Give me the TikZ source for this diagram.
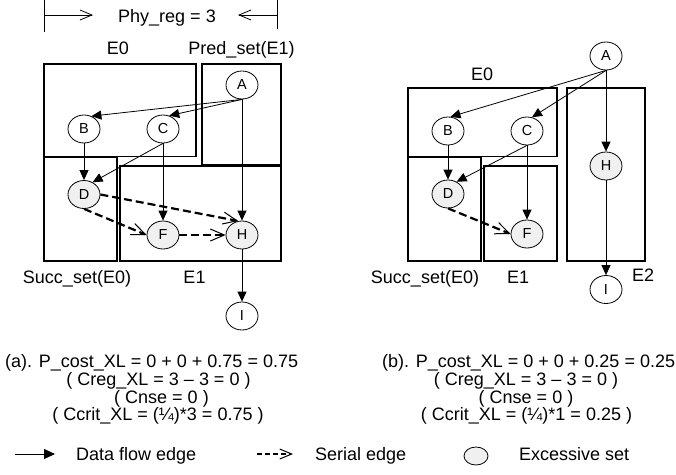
\documentclass[tikz,border=0pt]{standalone}
\usepackage{fontspec}
\setmainfont{Liberation Sans}
\usetikzlibrary{arrows.meta,shapes.geometric}
\tikzset{
  box/.style={draw, line width=1.5pt},
  vx/.style={draw, ellipse, minimum width=32pt, minimum height=28pt, inner sep=0pt,
    line width=0.8pt, fill=white, font=\fontsize{14.5}{17}\selectfont},
  ex/.style={vx, fill=gray!12},
  df/.style={line width=0.8pt, -{Triangle[length=10pt,width=9pt]}},
  se/.style={line width=2.2pt, dash pattern=on 8pt off 4pt,
    -{Straight Barb[length=14pt,width=12pt,line width=1pt]}},
  thinarr/.style={line width=0.8pt, -{Straight Barb[length=12pt,width=10pt,line width=0.8pt]}},
  lbl/.style={anchor=base, inner sep=0pt, font=\fontsize{18}{21}\selectfont},
  lblw/.style={lbl, anchor=base west},
}
\begin{document}
\begin{tikzpicture}[x=1pt,y=-1pt]
\useasboundingbox (0,0) rectangle (676,474);

% ---- Phy_reg marker ----
\coordinate (pl0) at (44,0); \coordinate (pl1) at (44,32);
\coordinate (pr0) at (277,0); \coordinate (pr1) at (277,29);
\coordinate (plA) at (44,15); \coordinate (plB) at (93,15);
\coordinate (prA) at (277,15); \coordinate (prB) at (238,15);
\draw[line width=0.8pt] (pl0) -- (pl1);
\draw[line width=0.8pt] (pr0) -- (pr1);
\draw[thinarr] (plA) -- (plB);
\draw[thinarr] (prA) -- (prB);
\node[lbl] (phy) at (167,22.5) {Phy\_reg = 3};

% ---- (a) boxes ----
\draw[box] (44,64) rectangle (196,156.5);
\draw[box] (202,64) rectangle (281,165);
\draw[box] (44,157.5) rectangle (117,261);
\draw[box] (120,166) rectangle (281,261);
\node[lbl] (aE0) at (118,54.5) {E0};
\node[lbl] (aPred) at (241.5,54.5) {Pred\_set(E1)};
\node[lbl] (aSucc) at (77,283) {Succ\_set(E0)};
\node[lbl] (aE1) at (194.5,283) {E1};

% ---- (a) nodes ----
\node[vx] (aA) at (242,85) {A};
\node[vx] (aB) at (84,129) {B};
\node[vx] (aC) at (163,129) {C};
\node[ex] (aD) at (84,194.5) {D};
\node[ex] (aF) at (163,235) {F};
\node[ex] (aH) at (242,235) {H};
\node[vx] (aI) at (242,316) {I};

% ---- (a) edges ----
\draw[df] (aA.south) -- (aB.60);
\draw[df] (aA.south) -- (aC.65);
\draw[df] (aA) -- (aH);
\draw[df] (aB) -- (aD);
\draw[df] (aC.south) -- (aD.55);
\draw[df] (aC) -- (aF);
\draw[se] (aD.east) -- (aH.105);
\draw[se] (aD.south) -- (aF.west);
\draw[se] (aF) -- (aH);
\draw[df] (aH) -- (aI);

% ---- (b) boxes ----
\draw[box] (408,88) rectangle (557,156.5);
\draw[box] (567,88) rectangle (645,261);
\draw[box] (408,157.5) rectangle (481,261);
\draw[box] (484,166) rectangle (557,261);
\node[lbl] (bE0) at (482,80) {E0};
\node[lbl] (bSucc) at (425,283) {Succ\_set(E0)};
\node[lbl] (bE1) at (518,283) {E1};
\node[lbl] (bE2) at (643,281) {E2};

% ---- (b) nodes ----
\node[vx] (bA) at (606,56) {A};
\node[vx] (bB) at (448,131) {B};
\node[vx] (bC) at (527,131) {C};
\node[ex] (bH) at (606,166) {H};
\node[ex] (bD) at (448,194) {D};
\node[ex] (bF) at (527,234) {F};
\node[vx] (bI) at (606,289.5) {I};

% ---- (b) edges ----
\draw[df] (bA.south) -- (bB.80);
\draw[df] (bA.south) -- (bC.70);
\draw[df] (bA) -- (bH);
\draw[df] (bB) -- (bD);
\draw[df] (bC.south) -- (bD.55);
\draw[df] (bC) -- (bF);
\draw[se] (bD.south) -- (bF.west);
\draw[df] (bH) -- (bI);

% ---- formulas ----
\node[lblw] (fa1) at (5,367) {(a). P\_cost\_XL = 0 + 0 + 0.75 = 0.75};
\node[lbl] (fa2) at (158.5,385) {( Creg\_XL = 3 – 3 = 0 )};
\node[lbl] (fa3) at (161.5,403) {( Cnse = 0 )};
\node[lbl] (fa4) at (158,420.5) {( Ccrit\_XL = (¼)*3 = 0.75 )};
\node[lblw] (fb1) at (382,367) {(b). P\_cost\_XL = 0 + 0 + 0.25 = 0.25};
\node[lbl] (fb2) at (526,385) {( Creg\_XL = 3 – 3 = 0 )};
\node[lbl] (fb3) at (526,403) {( Cnse = 0 )};
\node[lbl] (fb4) at (526.5,420.5) {( Ccrit\_XL = (¼)*1 = 0.25 )};

% ---- legend ----
\coordinate (l1a) at (15,454); \coordinate (l1b) at (55,454);
\draw[line width=0.8pt, -{Triangle[length=11pt,width=10pt]}] (l1a) -- (l1b);
\node[lblw] (ldf) at (76,460.5) {Data flow edge};
\coordinate (l2a) at (257,454); \coordinate (l2b) at (293,454);
\draw[line width=2pt, dash pattern=on 5pt off 3pt,
  -{Straight Barb[length=12pt,width=10pt,line width=1pt]}] (l2a) -- (l2b);
\node[lblw] (lse) at (315,460.5) {Serial edge};
\node[draw, ellipse, fill=gray!12, line width=0.8pt, minimum width=24pt,
  minimum height=18pt, inner sep=0pt] (lex) at (476,456) {};
\node[lblw] (lexl) at (519,460.5) {Excessive set};
\end{tikzpicture}
\end{document}
